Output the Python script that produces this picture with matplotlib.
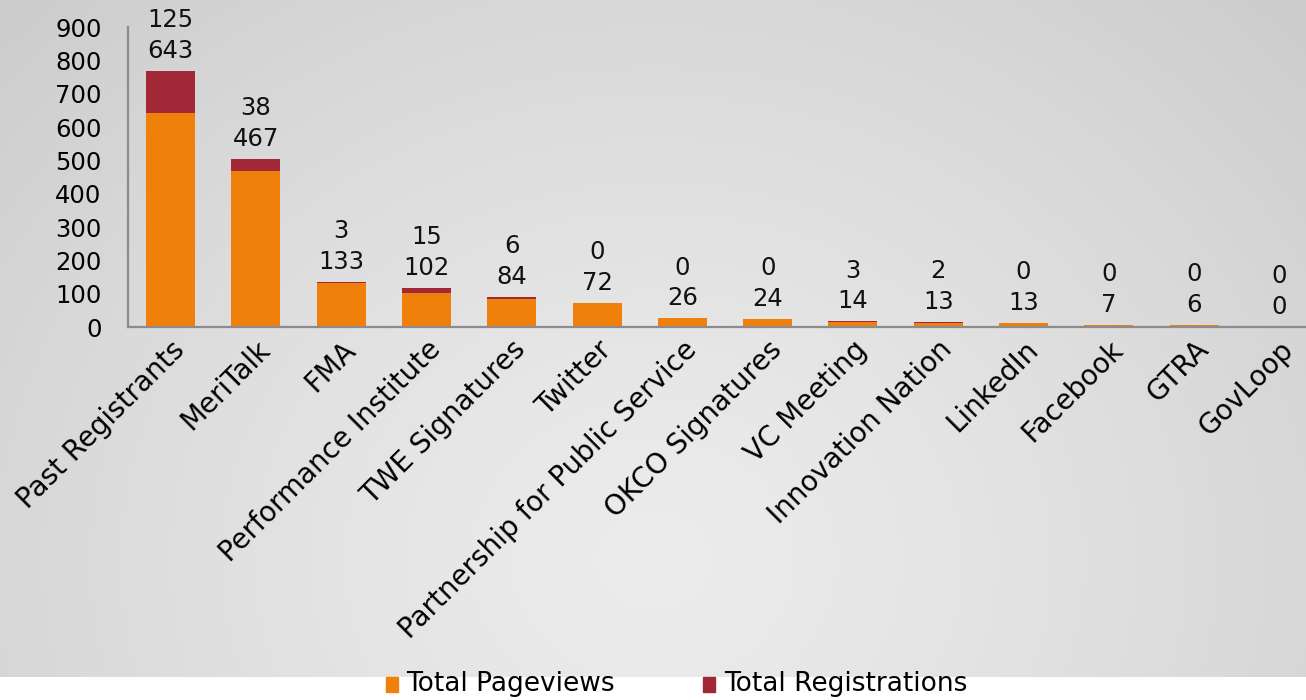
import numpy as np
import matplotlib
matplotlib.use("Agg")
import matplotlib.pyplot as plt
from matplotlib.patches import Rectangle

categories = ["Past Registrants", "MeriTalk", "FMA", "Performance Institute",
              "TWE Signatures", "Twitter", "Partnership for Public Service",
              "OKCO Signatures", "VC Meeting", "Innovation Nation", "LinkedIn",
              "Facebook", "GTRA", "GovLoop"]
pageviews = [643, 467, 133, 102, 84, 72, 26, 24, 14, 13, 13, 7, 6, 0]
registrations = [125, 38, 3, 15, 6, 0, 0, 0, 3, 2, 0, 0, 0, 0]
yticks = [0, 100, 200, 300, 400, 500, 600, 700, 800, 900]

C_PV = "#F0800C"
C_REG = "#A12836"

W, H = 1306, 700
fig = plt.figure(figsize=(W / 100, H / 100), dpi=100)
fig.patch.set_facecolor("white")

# background radial gradient
bg = fig.add_axes([0, 23 / H, 1, 677 / H], zorder=-10)
yy, xx = np.mgrid[0:677, 0:W]
d = np.sqrt(((xx - 653) / 800.0) ** 2 + ((yy - 560) / 700.0) ** 2)
d = np.clip(d / d.max(), 0, 1)
val = 0.925 - 0.125 * d ** 1.3
img = np.dstack([val, val, val])
bg.imshow(img, aspect="auto", extent=[0, 1, 0, 1], origin="upper")
bg.axis("off")

ax = fig.add_axes([128 / W, (H - 327) / H, 1194 / W, 300 / H])
ax.set_facecolor("none")
x = np.arange(len(categories))
ax.bar(x, pageviews, width=0.575, color=C_PV, zorder=2)
ax.bar(x, registrations, width=0.575, bottom=pageviews, color=C_REG, zorder=2)
ax.set_xlim(-0.5, len(categories) - 0.5)
ax.set_ylim(0, 900)
ax.set_yticks(yticks)
ax.set_yticklabels([str(t) for t in yticks], fontsize=17.5, family="DejaVu Sans")
ax.tick_params(axis="y", length=0, pad=19)
ax.tick_params(axis="x", length=0, pad=6)
ax.set_xticks(x)
ax.set_xticklabels(categories, rotation=45, ha="right", rotation_mode="anchor",
                   fontsize=20, family="DejaVu Sans")
for s in ["top", "right"]:
    ax.spines[s].set_visible(False)
for s in ["left", "bottom"]:
    ax.spines[s].set_color("#8c8c8c")
    ax.spines[s].set_linewidth(1.6)

for i, (p, r) in enumerate(zip(pageviews, registrations)):
    top = p + r
    ax.annotate(str(p), (i, top), xytext=(0, 14.5), textcoords="offset points",
                ha="center", va="center", fontsize=17.5, color="#111111")
    ax.annotate(str(r), (i, top), xytext=(0, 36.5), textcoords="offset points",
                ha="center", va="center", fontsize=17.5, color="#111111")

# legend
lfont = dict(family="DejaVu Sans", fontsize=19)
fig.patches.append(Rectangle((386 / W, (H - 692) / H), 12 / W, 15 / H,
                             transform=fig.transFigure, color=C_PV))
fig.text(406 / W, 1 - 684 / H, "Total Pageviews", va="center", ha="left", **lfont)
fig.patches.append(Rectangle((703 / W, (H - 692) / H), 12 / W, 15 / H,
                             transform=fig.transFigure, color=C_REG))
fig.text(724 / W, 1 - 684 / H, "Total Registrations", va="center", ha="left", **lfont)

fig.savefig("out.png", dpi=100)
